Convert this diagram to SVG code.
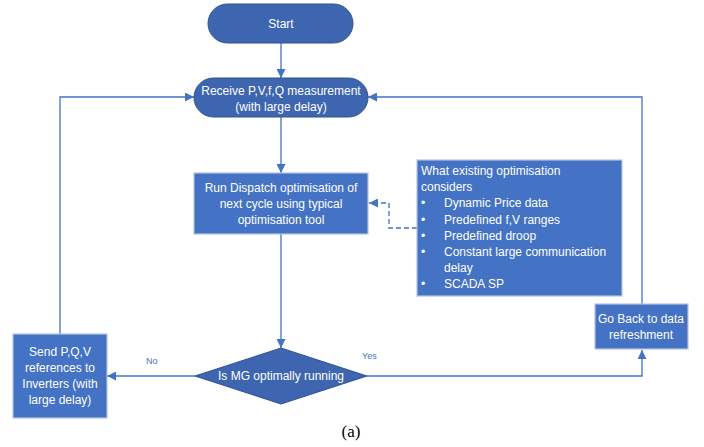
<svg xmlns="http://www.w3.org/2000/svg" width="704" height="447" viewBox="0 0 704 447">
<style>
.t{font-family:"Liberation Sans",Arial,sans-serif;font-size:12px;fill:#fff}
.c{text-anchor:middle}
.pill{fill:#3E66B0;stroke:#2F528F;stroke-width:1}
.box{fill:#4472C4;stroke:#B4C3E0;stroke-width:1.2}
.ln{fill:none;stroke:#4472C4;stroke-width:1.3}
.lbl{font-family:"Liberation Sans",Arial,sans-serif;font-size:9px;fill:#4472C4}
</style>
<defs>
<marker id="ah" viewBox="0 0 10 10" refX="10" refY="5" markerWidth="9" markerHeight="9" markerUnits="userSpaceOnUse" orient="auto"><path d="M0,0L10,5L0,10z" fill="#4472C4"/></marker>
</defs>
<rect width="704" height="447" fill="#fff"/>
<g id="connectors">
<path class="ln" d="M281,43V78" marker-end="url(#ah)"/>
<path class="ln" d="M281,117V173" marker-end="url(#ah)"/>
<path class="ln" d="M281,234V348" marker-end="url(#ah)"/>
<path class="ln" d="M195,376H107" marker-end="url(#ah)"/>
<path class="ln" d="M367,376H642V350" marker-end="url(#ah)"/>
<path class="ln" d="M642,304V97H368" marker-end="url(#ah)"/>
<path class="ln" d="M60,334V97H194" marker-end="url(#ah)"/>
<path class="ln" d="M417,228H389V203H369" stroke-dasharray="5,3" marker-end="url(#ah)"/>
<text class="lbl" x="146" y="364">No</text>
<text class="lbl" x="362" y="359">Yes</text>
</g>
<g id="start">
<rect class="pill" x="208" y="4" width="145" height="39" rx="19.5"/>
<text class="t c" x="281" y="28">Start</text>
</g>
<g id="receive">
<rect class="pill" x="194" y="78" width="174" height="39" rx="19.5"/>
<text class="t c" x="281" y="95">Receive P,V,f,Q measurement</text>
<text class="t c" x="281" y="111">(with large delay)</text>
</g>
<g id="dispatch">
<rect class="box" x="194" y="173" width="174" height="61"/>
<text class="t c" x="281" y="192">Run Dispatch optimisation of</text>
<text class="t c" x="281" y="208">next cycle using typical</text>
<text class="t c" x="281" y="224">optimisation tool</text>
</g>
<g id="info">
<rect class="box" x="417" y="160" width="205" height="136"/>
<text class="t" x="421" y="175">What existing optimisation</text>
<text class="t" x="421" y="191">considers</text>
<g class="t">
<text x="421" y="207">•</text><text x="444" y="207">Dynamic Price data</text>
<text x="421" y="224">•</text><text x="444" y="224">Predefined f,V ranges</text>
<text x="421" y="240">•</text><text x="444" y="240">Predefined droop</text>
<text x="421" y="256">•</text><text x="444" y="256">Constant large communication</text>
<text x="444" y="272">delay</text>
<text x="421" y="288">•</text><text x="444" y="288">SCADA SP</text>
</g>
</g>
<g id="decision">
<path d="M281,348L367,376L281,404L195,376z" fill="#3E66B0" stroke="#2F528F" stroke-width="1"/>
<text class="t c" x="281" y="380">Is MG optimally running</text>
</g>
<g id="send">
<rect class="box" x="13" y="334" width="94" height="84"/>
<text class="t c" x="60" y="356">Send P,Q,V</text>
<text class="t c" x="60" y="372">references to</text>
<text class="t c" x="60" y="388">Inverters (with</text>
<text class="t c" x="60" y="404">large delay)</text>
</g>
<g id="goback">
<rect class="box" x="595" y="304" width="93" height="45"/>
<text class="t c" x="641" y="323">Go Back to data</text>
<text class="t c" x="641" y="339">refreshment</text>
</g>
<text x="351" y="437" font-family="Liberation Serif,serif" font-size="17" text-anchor="middle" fill="#000">(a)</text>
</svg>
